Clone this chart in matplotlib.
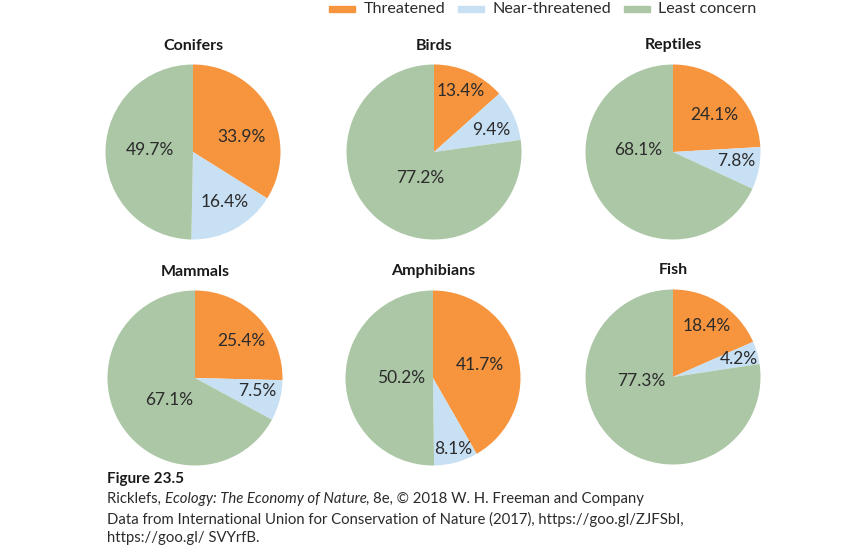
import matplotlib.pyplot as plt
from matplotlib.patches import Rectangle

# data
groups = ["Conifers", "Birds", "Reptiles", "Mammals", "Amphibians", "Fish"]
categories = ["Threatened", "Near-threatened", "Least concern"]
threatened = [33.9, 13.4, 24.1, 25.4, 41.7, 18.4]
near_threatened = [16.4, 9.4, 7.8, 7.5, 8.1, 4.2]
least_concern = [49.7, 77.2, 68.1, 67.1, 50.2, 77.3]

colors = ["#F7953F", "#C8E0F4", "#ABC7A5"]

# layout (pixels, image coords) and label spots in units of pie radius
W, H = 867, 556
centers = [(193, 152), (434, 152), (673, 152),
           (195, 378), (433, 378), (673, 377)]
R = 87.5
label_xy = [
    [(0.55, 0.17), (0.36, -0.57), (-0.49, 0.02)],
    [(0.30, 0.70), (0.66, 0.25), (-0.16, -0.30)],
    [(0.47, 0.42), (0.72, -0.10), (-0.40, 0.02)],
    [(0.53, 0.42), (0.71, -0.15), (-0.30, -0.25)],
    [(0.54, 0.15), (0.23, -0.81), (-0.37, 0.0)],
    [(0.38, 0.58), (0.75, 0.20), (-0.36, -0.05)],
]

FONT = "Lato"
TXT = "#2b2b2b"

fig = plt.figure(figsize=(W / 100, H / 100), dpi=100)


def fx(px):
    return px / W


def fy(py):
    return 1 - py / H


for i, name in enumerate(groups):
    cx, cy = centers[i]
    ax = fig.add_axes([fx(cx - R), fy(cy + R), 2 * R / W, 2 * R / H])
    vals = [threatened[i], near_threatened[i], least_concern[i]]
    ax.pie(vals, colors=colors, startangle=90, counterclock=False,
           radius=1, wedgeprops=dict(linewidth=0))
    ax.set_xlim(-1, 1)
    ax.set_ylim(-1, 1)
    ax.set_aspect("equal")
    ax.axis("off")
    for v, (lx, ly) in zip(vals, label_xy[i]):
        ax.text(lx, ly, f"{v:.1f}%", ha="center", va="center",
                fontsize=12.5, family=FONT, color=TXT)
    fig.text(fx(cx), fy(cy - R - 19), name, ha="center", va="center",
             fontsize=11.5, family=FONT, weight="bold", color="#1a1a1a")

# legend across the top
renderer = fig.canvas.get_renderer()
x = 329
for c, lab in zip(colors, categories):
    fig.patches.append(Rectangle((fx(x), fy(12)), 26 / W, 6 / H,
                                 transform=fig.transFigure, color=c))
    t = fig.text(fx(x + 35), fy(9), lab, ha="left", va="center",
                 fontsize=11.6, family=FONT, color=TXT)
    w = t.get_window_extent(renderer).width
    x = x + 35 + w + 12

# caption
fig.text(fx(107), fy(479), "Figure 23.5", ha="left", va="center",
         fontsize=11, family=FONT, weight="bold", color="#1a1a1a")
parts = [("Ricklefs, ", "normal"), ("Ecology: The Economy of Nature", "italic"),
         (", 8e, \u00a9 2018 W. H. Freeman and Company", "normal")]
x = 107
for s, st in parts:
    t = fig.text(fx(x), fy(499), s, ha="left", va="center", fontsize=10.7,
                 family=FONT, style=st, color=TXT)
    x += t.get_window_extent(renderer).width
fig.text(fx(107), fy(519),
         "Data from International Union for Conservation of Nature (2017), https://goo.gl/ZJFSbI,",
         ha="left", va="center", fontsize=10.7, family=FONT, color=TXT)
fig.text(fx(107), fy(538), "https://goo.gl/ SVYrfB.", ha="left", va="center",
         fontsize=10.7, family=FONT, color=TXT)

fig.savefig("out.png", dpi=100)
